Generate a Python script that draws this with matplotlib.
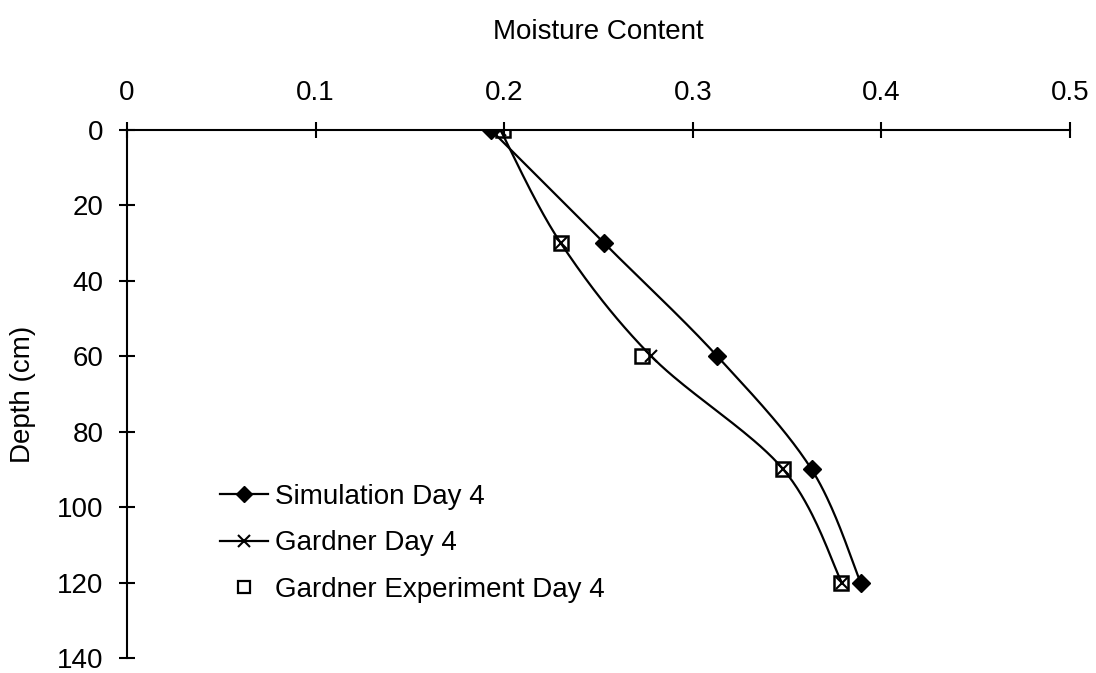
import numpy as np
import matplotlib
matplotlib.use("Agg")
import matplotlib.pyplot as plt
from matplotlib.lines import Line2D

plt.rcParams['font.family'] = ['Liberation Sans', 'DejaVu Sans']

depth = [0, 30, 60, 90, 120]
sim_day4 = [0.193, 0.253, 0.313, 0.363, 0.389]
gardner_day4 = [0.198, 0.230, 0.278, 0.348, 0.379]
gardner_exp_day4 = [0.1995, 0.230, 0.273, 0.348, 0.3785]

x_ticks = [0, 0.1, 0.2, 0.3, 0.4, 0.5]
y_ticks = [0, 20, 40, 60, 80, 100, 120, 140]

FS = 20

fig = plt.figure(figsize=(10.96, 6.73), dpi=100)
ax = fig.add_axes([0.1159, 0.0223, 0.8604, 0.7845])
ax.set_xlim(0, 0.5)
ax.set_ylim(140, 0)


def smooth(ax, xs, ys, n=40):
    pts = ax.transData.transform(np.column_stack([xs, ys]))
    P = np.vstack([pts[0], pts, pts[-1]])
    out = []
    t = np.linspace(0, 1, n)[:, None]
    for i in range(1, len(P) - 2):
        p0, p1, p2, p3 = P[i - 1], P[i], P[i + 1], P[i + 2]
        c1 = p1 + (p2 - p0) / 6
        c2 = p2 - (p3 - p1) / 6
        seg = ((1 - t) ** 3) * p1 + 3 * ((1 - t) ** 2) * t * c1 + 3 * (1 - t) * t ** 2 * c2 + t ** 3 * p2
        out.append(seg)
    out = np.vstack(out)
    d = ax.transData.inverted().transform(out)
    return d[:, 0], d[:, 1]


fig.canvas.draw()
sx, sy = smooth(ax, sim_day4, depth)
gx, gy = smooth(ax, gardner_day4, depth)

ax.plot(sx, sy, color='black', lw=1.6, zorder=2)
ax.plot(sim_day4, depth, ls='none', marker='D', ms=9, color='black', zorder=4)
ax.plot(gx, gy, color='black', lw=1.6, zorder=2)
ax.plot(gardner_day4, depth, ls='none', marker='x', ms=9, mew=1.5, color='black', zorder=4)
ax.plot(gardner_exp_day4, depth, ls='none', marker='s', ms=10, mfc='none', mec='black', mew=1.8, zorder=5)

handles = [
    Line2D([], [], color='black', lw=1.6, marker='D', ms=8),
    Line2D([], [], color='black', lw=1.6, marker='x', ms=9, mew=1.5),
    Line2D([], [], color='black', lw=0, marker='s', ms=8, mfc='none', mew=1.6),
]
labels = ['Simulation Day 4', 'Gardner Day 4', 'Gardner Experiment Day 4']
leg = fig.legend(handles, labels, loc='upper left',
                 bbox_to_anchor=(220 / 1096, 1 - 484 / 673), bbox_transform=fig.transFigure,
                 frameon=False, fontsize=FS, handlelength=1.73, handletextpad=0.25,
                 labelspacing=0.73, borderpad=0, borderaxespad=0)

for s in ['right', 'bottom']:
    ax.spines[s].set_visible(False)
ax.spines['top'].set_linewidth(1.5)
ax.spines['left'].set_linewidth(1.5)
ax.xaxis.tick_top()
ax.xaxis.set_label_position('top')
ax.set_xticks(x_ticks)
ax.set_xticklabels([f"{v:g}" for v in x_ticks])
ax.set_yticks(y_ticks)
ax.tick_params(axis='both', direction='inout', length=12, width=1.5, labelsize=FS)
ax.tick_params(axis='x', pad=11.5)
ax.tick_params(axis='y', pad=11)
ax.set_xlabel('Moisture Content', fontsize=FS, labelpad=29)
ax.set_ylabel('Depth (cm)', fontsize=FS, labelpad=15)

fig.savefig('out.png', dpi=100)
